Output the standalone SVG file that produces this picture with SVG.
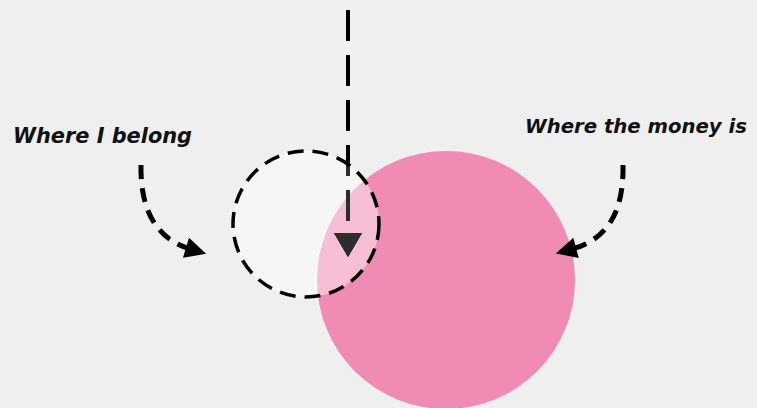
<svg xmlns="http://www.w3.org/2000/svg" width="757" height="408" viewBox="0 0 757 408">
<style>
.lbl{font-family:"DejaVu Sans","Liberation Sans",sans-serif;font-style:italic;font-weight:bold;font-size:21px;fill:#111}
.curve{fill:none;stroke:#000;stroke-width:5;stroke-dasharray:14 9}
</style>
<defs>
<marker id="ah" viewBox="0 0 10 10" refX="2" refY="5" markerWidth="4.5" markerHeight="4.2" orient="auto" markerUnits="strokeWidth">
<path d="M0,0 L10,5 L0,10 Z" fill="#000"/>
</marker>
<clipPath id="inCircle"><circle cx="306" cy="224" r="73"/></clipPath>
<g id="vArrow">
<line x1="348" y1="10" x2="348" y2="236" stroke-width="4" stroke-dasharray="31 14"/>
<path d="M334,233 L362,233 L348,257 Z" stroke="none"/>
</g>
</defs>
<rect width="757" height="408" fill="#efefef"/>
<g id="money">
<circle cx="446" cy="280" r="129" fill="#f08bb3"/>
</g>
<g id="belong-fill">
<circle cx="306" cy="224" r="73" fill="#fff" fill-opacity="0.45"/>
</g>
<g id="connectors">
<use href="#vArrow" stroke="#000" fill="#000"/>
<use href="#vArrow" stroke="#2d2d2d" fill="#2d2d2d" clip-path="url(#inCircle)"/>
<path class="curve" d="M141,165 C140,215 160,240 190,249" marker-end="url(#ah)"/>
<path class="curve" d="M623,165 C624,215 605,240 572,249" marker-end="url(#ah)"/>
</g>
<g id="belong">
<circle cx="306" cy="224" r="73" fill="none" stroke="#000" stroke-width="3.5" stroke-dasharray="16 9"/>
</g>
<g id="labels">
<text class="lbl" x="13" y="143" textLength="179" lengthAdjust="spacingAndGlyphs">Where I belong</text>
<text class="lbl" x="525" y="133" style="font-size:19.5px" textLength="222" lengthAdjust="spacingAndGlyphs">Where the money is</text>
</g>
</svg>
